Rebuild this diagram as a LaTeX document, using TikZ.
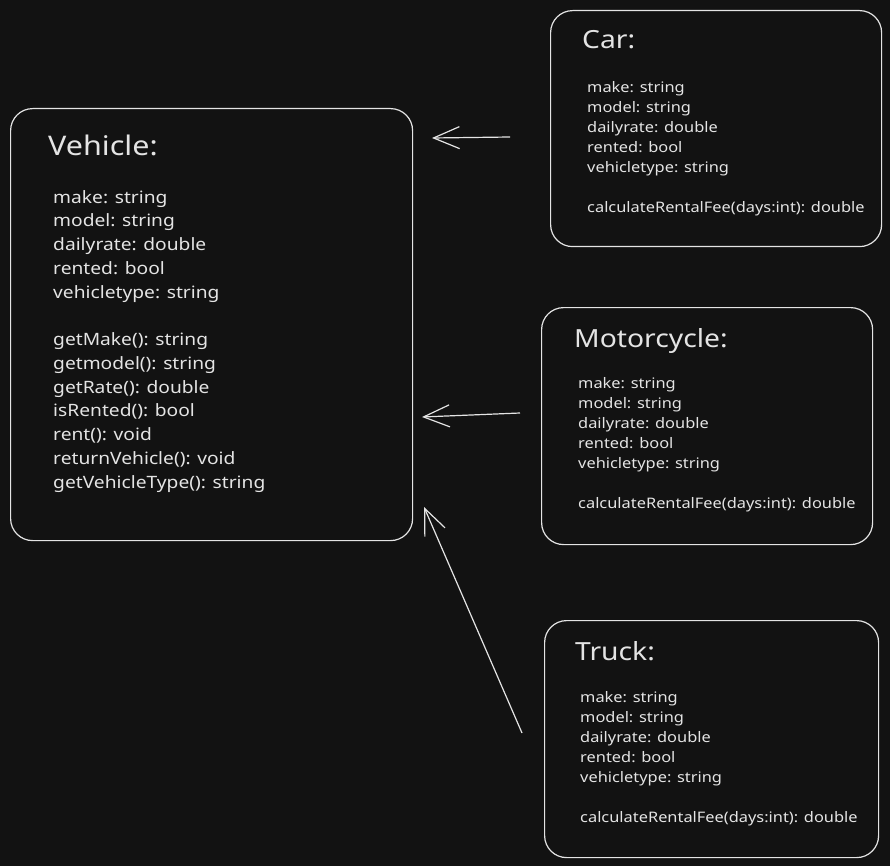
\documentclass[tikz,border=0pt]{standalone}
\usepackage{fontspec}
\setmainfont{Noto Sans}[FakeStretch=1.13]
\usetikzlibrary{arrows.meta}
\definecolor{bg}{HTML}{121212}
\definecolor{ink}{HTML}{E4E4E4}
\begin{document}
\begin{tikzpicture}[
        x=1pt, y=-1pt,
        every node/.style={text=ink, inner sep=0pt},
        classbox/.style={draw=ink, line width=1.2pt, rounded corners=22pt, anchor=north west},
        bigtitle/.style={anchor=base west, font=\fontsize{27}{32}\selectfont},
        smalltitle/.style={anchor=base west, font=\fontsize{25}{30}\selectfont},
        bigmembers/.style={anchor=north west, align=left, font=\fontsize{17}{23.75}\selectfont},
        smallmembers/.style={anchor=north west, align=left, font=\fontsize{14.5}{20}\selectfont},
        inherit/.style={draw=ink, line width=1.2pt, -{Straight Barb[length=26pt, width=22pt]}}
    ]
    \fill[bg] (0,0) rectangle (890,866);
    \useasboundingbox (0,0) rectangle (890,866);

    \node[classbox, minimum width=402pt, minimum height=432pt] (vehicle) at (10,108) {};
    \node[bigtitle] (vehicleTitle) at (48,156) {Vehicle:};
    \node[bigmembers] (vehicleMembers) at (53,190) {make: string\\ model: string\\ dailyrate: double\\ rented: bool\\ vehicletype: string\\[23.75pt]
        getMake(): string\\ getmodel(): string\\ getRate(): double\\ isRented(): bool\\ rent(): void\\ returnVehicle(): void\\ getVehicleType(): string};

    \node[classbox, minimum width=331pt, minimum height=236pt] (car) at (550,10) {};
    \node[smalltitle] (carTitle) at (582,49) {Car:};
    \node[smallmembers] (carMembers) at (587,81) {make: string\\ model: string\\ dailyrate: double\\ rented: bool\\ vehicletype: string\\[20pt]
        calculateRentalFee(days:int): double};

    \node[classbox, minimum width=331pt, minimum height=237pt] (motorcycle) at (541,307) {};
    \node[smalltitle] (motorcycleTitle) at (574,347) {Motorcycle:};
    \node[smallmembers] (motorcycleMembers) at (578,377) {make: string\\ model: string\\ dailyrate: double\\ rented: bool\\ vehicletype: string\\[20pt]
        calculateRentalFee(days:int): double};

    \node[classbox, minimum width=334pt, minimum height=237pt] (truck) at (544,620) {};
    \node[smalltitle] (truckTitle) at (575,660) {Truck:};
    \node[smallmembers] (truckMembers) at (580,691) {make: string\\ model: string\\ dailyrate: double\\ rented: bool\\ vehicletype: string\\[20pt]
        calculateRentalFee(days:int): double};

    \coordinate (carTail) at (510,137);
    \coordinate (carTip) at (432,138);
    \coordinate (motorcycleTail) at (520,413);
    \coordinate (motorcycleTip) at (422,417);
    \coordinate (truckTail) at (522,733);
    \coordinate (truckTip) at (424,507);
    \draw[inherit] (carTail) -- (carTip);
    \draw[inherit] (motorcycleTail) -- (motorcycleTip);
    \draw[inherit] (truckTail) -- (truckTip);
\end{tikzpicture}
\end{document}
